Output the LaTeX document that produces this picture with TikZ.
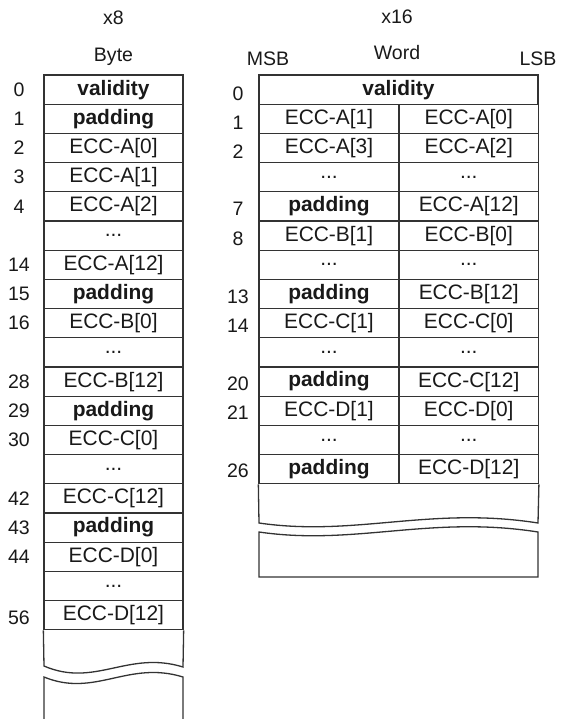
\documentclass[tikz,border=0pt]{standalone}
\usepackage{fontspec}
\setmainfont{Liberation Sans}
\usetikzlibrary{positioning}

\begin{document}
\begin{tikzpicture}[
        x=0.5bp, y=-0.5bp,
        cell/.style={rectangle, draw=black!80, line width=0.65bp, text=black!90, inner sep=0pt, minimum height=14.6bp, font=\fontsize{10.5}{12}\selectfont},
        bytecell/.style={cell, minimum width=69.5bp},
        msbcell/.style={cell, minimum width=70bp},
        lsbcell/.style={cell, minimum width=69.5bp},
        wordcell/.style={cell, minimum width=139.5bp},
        idx/.style={font=\fontsize{9.8}{11}\selectfont, text=black!90, inner sep=0pt},
        brk/.style={draw=black!80, line width=0.65bp}
    ]
        \useasboundingbox (0,0) rectangle (563,719);
        % headers
        \node[idx] (x8) at (113.5, 18) {x8};
        \node[idx] (byte) at (113.5, 57) {Byte};
        \node[idx] (x16) at (397, 17) {x16};
        \node[idx] (msb) at (268, 59) {MSB};
        \node[idx] (word) at (397, 53) {Word};
        \node[idx] (lsb) at (538, 59) {LSB};
        % byte layout
        \node[bytecell] (b0) at (113.5, 89.6) {\textbf{validity}};
        \node[bytecell] (b1) at (113.5, 118.8) {\textbf{padding}};
        \node[bytecell] (b2) at (113.5, 148.0) {ECC-A[0]};
        \node[bytecell] (b3) at (113.5, 177.2) {ECC-A[1]};
        \node[bytecell] (b4) at (113.5, 206.4) {ECC-A[2]};
        \node[bytecell] (b5) at (113.5, 235.6) {...};
        \node[bytecell] (b6) at (113.5, 264.8) {ECC-A[12]};
        \node[bytecell] (b7) at (113.5, 294.0) {\textbf{padding}};
        \node[bytecell] (b8) at (113.5, 323.2) {ECC-B[0]};
        \node[bytecell] (b9) at (113.5, 352.4) {...};
        \node[bytecell] (b10) at (113.5, 381.6) {ECC-B[12]};
        \node[bytecell] (b11) at (113.5, 410.8) {\textbf{padding}};
        \node[bytecell] (b12) at (113.5, 440.0) {ECC-C[0]};
        \node[bytecell] (b13) at (113.5, 469.2) {...};
        \node[bytecell] (b14) at (113.5, 498.4) {ECC-C[12]};
        \node[bytecell] (b15) at (113.5, 527.6) {\textbf{padding}};
        \node[bytecell] (b16) at (113.5, 556.8) {ECC-D[0]};
        \node[bytecell] (b17) at (113.5, 586.0) {...};
        \node[bytecell] (b18) at (113.5, 615.2) {ECC-D[12]};
        % byte offsets
        \node[idx] (o0) at (19, 89.6) {0};
        \node[idx] (o1) at (19, 118.8) {1};
        \node[idx] (o2) at (19, 148.0) {2};
        \node[idx] (o3) at (19, 177.2) {3};
        \node[idx] (o4) at (19, 206.4) {4};
        \node[idx] (o14) at (19, 264.8) {14};
        \node[idx] (o15) at (19, 294.0) {15};
        \node[idx] (o16) at (19, 323.2) {16};
        \node[idx] (o28) at (19, 381.6) {28};
        \node[idx] (o29) at (19, 410.8) {29};
        \node[idx] (o30) at (19, 440.0) {30};
        \node[idx] (o42) at (19, 498.4) {42};
        \node[idx] (o43) at (19, 527.6) {43};
        \node[idx] (o44) at (19, 556.8) {44};
        \node[idx] (o56) at (19, 617.5) {56};
        % byte break
        \draw[brk] (b18.south west) -- (44,666) .. controls (95,688) and (128,650) .. (183,667) -- (b18.south east);
        \draw[brk] (44,719) -- (44,677) .. controls (95,698) and (128,660) .. (183,677) -- (183,719);
        % word layout
        \node[wordcell] (w0) at (398.5, 89.6) {\textbf{validity}};
        \node[msbcell] (m1) at (329, 118.8) {ECC-A[1]};
        \node[lsbcell] (l1) at (468.75, 118.8) {ECC-A[0]};
        \node[msbcell] (m2) at (329, 148.0) {ECC-A[3]};
        \node[lsbcell] (l2) at (468.75, 148.0) {ECC-A[2]};
        \node[msbcell] (m3) at (329, 177.2) {...};
        \node[lsbcell] (l3) at (468.75, 177.2) {...};
        \node[msbcell] (m4) at (329, 206.4) {\textbf{padding}};
        \node[lsbcell] (l4) at (468.75, 206.4) {ECC-A[12]};
        \node[msbcell] (m5) at (329, 235.6) {ECC-B[1]};
        \node[lsbcell] (l5) at (468.75, 235.6) {ECC-B[0]};
        \node[msbcell] (m6) at (329, 264.8) {...};
        \node[lsbcell] (l6) at (468.75, 264.8) {...};
        \node[msbcell] (m7) at (329, 294.0) {\textbf{padding}};
        \node[lsbcell] (l7) at (468.75, 294.0) {ECC-B[12]};
        \node[msbcell] (m8) at (329, 323.2) {ECC-C[1]};
        \node[lsbcell] (l8) at (468.75, 323.2) {ECC-C[0]};
        \node[msbcell] (m9) at (329, 352.4) {...};
        \node[lsbcell] (l9) at (468.75, 352.4) {...};
        \node[msbcell] (m10) at (329, 381.6) {\textbf{padding}};
        \node[lsbcell] (l10) at (468.75, 381.6) {ECC-C[12]};
        \node[msbcell] (m11) at (329, 410.8) {ECC-D[1]};
        \node[lsbcell] (l11) at (468.75, 410.8) {ECC-D[0]};
        \node[msbcell] (m12) at (329, 440.0) {...};
        \node[lsbcell] (l12) at (468.75, 440.0) {...};
        \node[msbcell] (m13) at (329, 469.2) {\textbf{padding}};
        \node[lsbcell] (l13) at (468.75, 469.2) {ECC-D[12]};
        % word offsets
        \node[idx] (a0) at (238, 94) {0};
        \node[idx] (a1) at (238, 123) {1};
        \node[idx] (a2) at (238, 152) {2};
        \node[idx] (a7) at (238, 209) {7};
        \node[idx] (a8) at (238, 238.5) {8};
        \node[idx] (a13) at (238, 297) {13};
        \node[idx] (a14) at (238, 326) {14};
        \node[idx] (a20) at (238, 384) {20};
        \node[idx] (a21) at (238, 413) {21};
        \node[idx] (a26) at (238, 471) {26};
        % word break
        \draw[brk] (m13.south west) -- (259,523) .. controls (355,537) and (430,506) .. (538,523) -- (l13.south east);
        \draw[brk] (259,532) .. controls (355,546) and (430,515) .. (538,532) -- (538,577) -- (259,577) -- cycle;
    \end{tikzpicture}
\end{document}
